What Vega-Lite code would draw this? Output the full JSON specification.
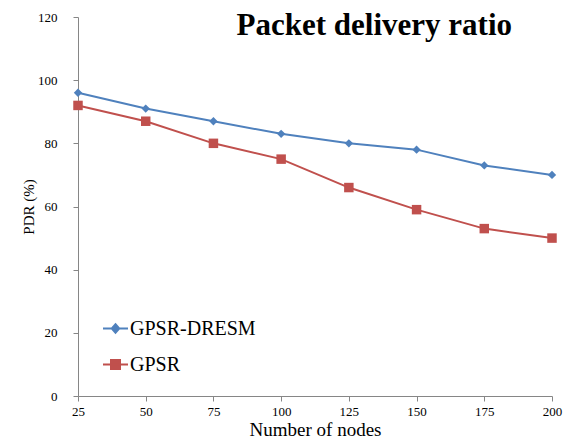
{
  "$schema": "https://vega.github.io/schema/vega-lite/v6.json",
  "width": 474,
  "height": 379,
  "autosize": "none",
  "padding": {"left": 78, "top": 17, "right": 13, "bottom": 43},
  "background": "white",
  "config": {"view": {"stroke": null}, "font": "Liberation Serif, serif"},
  "title": {"text": "Packet delivery ratio", "anchor": "end", "frame": "group", "dx": -40, "dy": 35, "font": "Liberation Serif, serif", "fontSize": 31, "fontWeight": "bold", "color": "black"},
  "data": {"values": [
    {"nodes": 25, "pdr": 96, "series": "GPSR-DRESM"},
    {"nodes": 50, "pdr": 91, "series": "GPSR-DRESM"},
    {"nodes": 75, "pdr": 87, "series": "GPSR-DRESM"},
    {"nodes": 100, "pdr": 83, "series": "GPSR-DRESM"},
    {"nodes": 125, "pdr": 80, "series": "GPSR-DRESM"},
    {"nodes": 150, "pdr": 78, "series": "GPSR-DRESM"},
    {"nodes": 175, "pdr": 73, "series": "GPSR-DRESM"},
    {"nodes": 200, "pdr": 70, "series": "GPSR-DRESM"},
    {"nodes": 25, "pdr": 92, "series": "GPSR"},
    {"nodes": 50, "pdr": 87, "series": "GPSR"},
    {"nodes": 75, "pdr": 80, "series": "GPSR"},
    {"nodes": 100, "pdr": 75, "series": "GPSR"},
    {"nodes": 125, "pdr": 66, "series": "GPSR"},
    {"nodes": 150, "pdr": 59, "series": "GPSR"},
    {"nodes": 175, "pdr": 53, "series": "GPSR"},
    {"nodes": 200, "pdr": 50, "series": "GPSR"}
  ]},
  "encoding": {
    "x": {"field": "nodes", "type": "quantitative", "scale": {"domain": [25, 200], "nice": false, "zero": false},
      "axis": {"values": [25, 50, 75, 100, 125, 150, 175, 200], "grid": false, "title": "Number of nodes", "titleFont": "Liberation Serif, serif", "titleFontSize": 19, "titleFontWeight": "normal", "titleColor": "black", "titlePadding": 2,
        "labelFont": "Liberation Serif, serif", "labelFontSize": 13, "labelColor": "black", "labelPadding": 4, "tickColor": "#868686", "domainColor": "#868686", "tickSize": 5, "labelFlush": false}},
    "y": {"field": "pdr", "type": "quantitative", "scale": {"domain": [0, 120], "nice": false},
      "axis": {"values": [0, 20, 40, 60, 80, 100, 120], "grid": false, "title": "PDR (%)", "titleFont": "Liberation Serif, serif", "titleFontSize": 15, "titleFontWeight": "normal", "titleColor": "black", "titlePadding": 1,
        "labelFont": "Liberation Serif, serif", "labelFontSize": 13, "labelColor": "black", "labelPadding": 16, "tickColor": "#868686", "domainColor": "#868686", "tickSize": 5}}
  },
  "layer": [
    {"mark": {"type": "line", "strokeWidth": 2},
      "encoding": {"color": {"field": "series", "type": "nominal", "scale": {"domain": ["GPSR-DRESM", "GPSR"], "range": ["#4F81BD", "#C0504D"]},
        "legend": {"title": null, "orient": "none", "legendX": 24, "legendY": 298, "labelFont": "Liberation Serif, serif", "labelFontSize": 20, "labelColor": "black", "symbolSize": 625, "symbolStrokeWidth": 2, "rowPadding": 12, "labelOffset": 1,
          "encode": {"symbols": {"update": {
            "shape": {"signal": "datum.value === 'GPSR' ? 'M-1,0H1M-0.36,-0.36H0.36V0.36H-0.36Z' : 'M-1,0H1M0,-0.34L0.3,0L0,0.34L-0.3,0Z'"},
            "fill": {"signal": "datum.value === 'GPSR' ? '#C0504D' : '#4F81BD'"},
            "stroke": {"signal": "datum.value === 'GPSR' ? '#C0504D' : '#4F81BD'"},
            "strokeWidth": {"value": 2}
          }}}}}}},
    {"transform": [{"filter": "datum.series === 'GPSR-DRESM'"}],
      "mark": {"type": "point", "filled": true, "opacity": 1, "shape": "diamond", "size": 70, "color": "#4F81BD"}},
    {"transform": [{"filter": "datum.series === 'GPSR'"}],
      "mark": {"type": "point", "filled": true, "opacity": 1, "shape": "square", "size": 90, "color": "#C0504D"}}
  ]
}
